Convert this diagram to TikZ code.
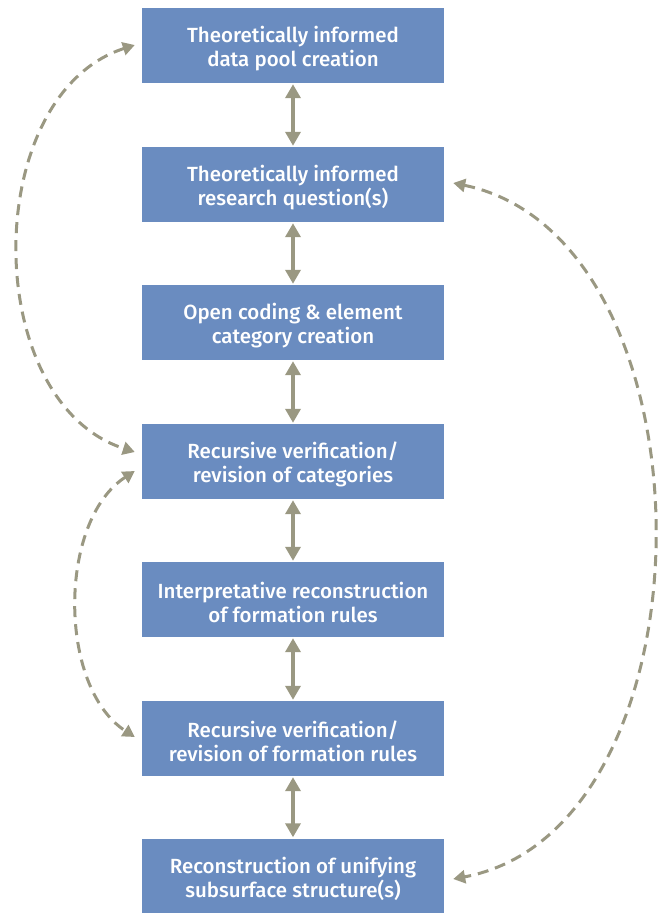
\documentclass[tikz,border=0pt]{standalone}
\usepackage{fontspec}
\setmainfont{Fira Sans}[BoldFont={Fira Sans Medium}]
\usetikzlibrary{arrows.meta}
\definecolor{boxblue}{HTML}{6A8CC0}
\definecolor{arrowgray}{HTML}{9A9882}
\newcommand{\topstrut}{\rule{0pt}{22pt}}
\tikzset{
  stepbox/.style={fill=boxblue, text=white, minimum width=302pt, minimum height=75pt,
    align=center, inner sep=0pt, font=\fontsize{20.5}{23.5}\selectfont\bfseries},
  vlink/.style={arrowgray, line width=4pt, {Triangle[length=14pt,width=15pt]}-{Triangle[length=14pt,width=15pt]}, shorten <=1pt, shorten >=1pt},
  loop/.style={arrowgray, line width=3pt, dash pattern=on 11pt off 7pt, {Triangle[length=12pt,width=13pt]}-{Triangle[length=12pt,width=13pt]}}
}
\begin{document}
\begin{tikzpicture}[x=1pt, y=-1pt]
			\useasboundingbox (0,0) rectangle (660,913);
			%Etapes
			\node[stepbox] (S1) at (293,45.5) {\topstrut Theoretically informed\\data pool creation};
			\node[stepbox] (S2) at (293,184.5) {\topstrut Theoretically informed\\research question(s)};
			\node[stepbox] (S3) at (293,322.5) {\topstrut Open coding \& element\\category creation};
			\node[stepbox] (S4) at (293,461.5) {\topstrut Recursive verification/\\revision of categories};
			\node[stepbox] (S5) at (293,599.5) {\topstrut Interpretative reconstruction\\of formation rules};
			\node[stepbox] (S6) at (293,738.5) {\topstrut Recursive verification/\\revision of formation rules};
			\node[stepbox] (S7) at (293,876) {\topstrut Reconstruction of unifying\\subsurface structure(s)};
			%Liens verticaux
			\draw[vlink] (S1) -- (S2);
			\draw[vlink] (S2) -- (S3);
			\draw[vlink] (S3) -- (S4);
			\draw[vlink] (S4) -- (S5);
			\draw[vlink] (S5) -- (S6);
			\draw[vlink] (S6) -- (S7);
			%Boucles de retour
			\coordinate (L1a) at ([xshift=-7pt,yshift=0.5pt]S1.west);
			\coordinate (L1b) at ([xshift=-7pt,yshift=9.5pt]S4.west);
			\coordinate (L2a) at ([xshift=-7pt,yshift=-9.5pt]S4.west);
			\coordinate (L2b) at ([xshift=-7pt,yshift=1.5pt]S6.west);
			\coordinate (R1a) at ([xshift=9pt,yshift=1.5pt]S2.east);
			\coordinate (R1b) at ([xshift=9pt,yshift=-3pt]S7.east);
			\draw[loop] (L1a) .. controls +(-155,50) and +(-155,-50) .. (L1b);
			\draw[loop] (L2a) .. controls +(-77,50) and +(-77,-50) .. (L2b);
			\draw[loop] (R1a) .. controls +(267,55) and +(267,-50) .. (R1b);
		\end{tikzpicture}
\end{document}
